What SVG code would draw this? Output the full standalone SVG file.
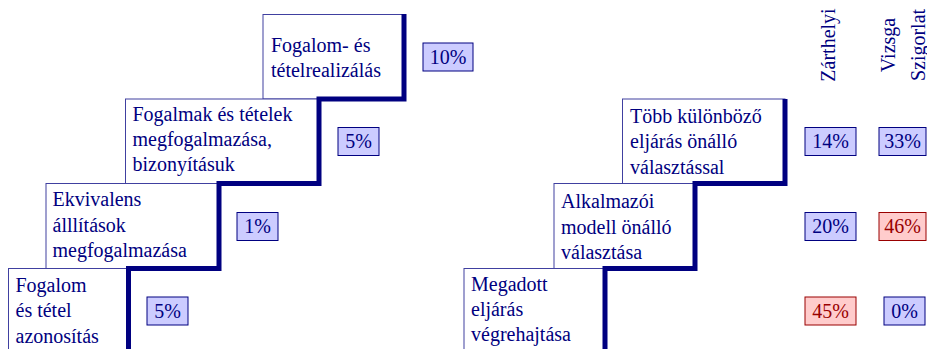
<svg xmlns="http://www.w3.org/2000/svg" width="927" height="349" viewBox="0 0 927 349">
  <style>
    text { font-size: 20px; fill: #000080; }
    .step { fill: #ffffff; stroke: #4040a0; stroke-width: 1; }
    .stair { fill: none; stroke: #000080; stroke-width: 5; stroke-linejoin: miter; }
    .pct rect { fill: #ccccff; stroke: #000080; stroke-width: 1; }
    .pct.red rect { fill: #ffcccc; stroke: #990000; }
    .pct.red text { fill: #990000; }
    .pct text { text-anchor: middle; }
    .head { text-anchor: middle; }
  </style>
  <rect width="927" height="349" fill="#ffffff"/>

  <g font-family="'Liberation Serif', 'Times New Roman', 'DejaVu Serif', serif">
  <!-- left staircase: concept levels -->
  <g id="step-realizalas">
    <rect class="step" x="263" y="14.5" width="141" height="84.5"/>
    <text x="271" y="52">Fogalom- és</text>
    <text x="271" y="76.5">tételrealizálás</text>
  </g>
  <g id="step-megfogalmazas">
    <rect class="step" x="125.5" y="99" width="193.5" height="84.5"/>
    <text x="132.5" y="121">Fogalmak és tételek</text>
    <text x="132.5" y="146">megfogalmazása,</text>
    <text x="132.5" y="171">bizonyításuk</text>
  </g>
  <g id="step-ekvivalens">
    <rect class="step" x="46" y="183.5" width="173" height="85"/>
    <text x="52.5" y="206">Ekvivalens</text>
    <text x="52.5" y="231.5">álllítások</text>
    <text x="52.5" y="256.5">megfogalmazása</text>
  </g>
  <g id="step-azonositas">
    <rect class="step" x="8.5" y="268.5" width="120" height="90"/>
    <text x="15.5" y="291.5">Fogalom</text>
    <text x="15.5" y="317">és tétel</text>
    <text x="15.5" y="342.5">azonosítás</text>
  </g>

  <!-- right staircase: procedure levels -->
  <g id="step-tobb">
    <rect class="step" x="622.5" y="99" width="162.5" height="84.5"/>
    <text x="630" y="122.5">Több különböző</text>
    <text x="630" y="148">eljárás önálló</text>
    <text x="630" y="174">választással</text>
  </g>
  <g id="step-alkalmazoi">
    <rect class="step" x="554" y="183.5" width="141" height="85"/>
    <text x="561" y="208">Alkalmazói</text>
    <text x="561" y="233.5">modell önálló</text>
    <text x="561" y="258.5">választása</text>
  </g>
  <g id="step-megadott">
    <rect class="step" x="464" y="268.5" width="141" height="90"/>
    <text x="471" y="290.5">Megadott</text>
    <text x="471" y="315.5">eljárás</text>
    <text x="471" y="340.5">végrehajtása</text>
  </g>

  <!-- thick stair outlines -->
  <g id="connectors">
    <path class="stair" d="M404,14 V99 H319 V183.5 H219 V268.5 H128.5 V355"/>
    <path class="stair" d="M785,99 V183.5 H695 V268.5 H605 V355"/>
  </g>

  <!-- column headings -->
  <g id="headings">
    <text class="head" transform="translate(835,45) rotate(-90)">Zárthelyi</text>
    <text class="head" transform="translate(894.5,45) rotate(-90)">Vizsga</text>
    <text class="head" transform="translate(924.5,45) rotate(-90)">Szigorlat</text>
  </g>

  <!-- percentage tags -->
  <g id="pct-10" class="pct"><rect x="423" y="43" width="50" height="28"/><text x="448" y="63.5">10%</text></g>
  <g id="pct-5a" class="pct"><rect x="338" y="127.5" width="41" height="28"/><text x="358.5" y="148">5%</text></g>
  <g id="pct-1" class="pct"><rect x="237" y="212.5" width="41" height="28"/><text x="257.5" y="233">1%</text></g>
  <g id="pct-5b" class="pct"><rect x="147" y="297" width="41" height="28"/><text x="167.5" y="317.5">5%</text></g>

  <g id="pct-14" class="pct"><rect x="805" y="127.5" width="51" height="28"/><text x="830.5" y="148">14%</text></g>
  <g id="pct-33" class="pct"><rect x="879" y="127.5" width="47" height="28"/><text x="902.5" y="148">33%</text></g>
  <g id="pct-20" class="pct"><rect x="805" y="212.5" width="51" height="28"/><text x="830.5" y="233">20%</text></g>
  <g id="pct-46" class="pct red"><rect x="879" y="212.5" width="47" height="28"/><text x="902.5" y="233">46%</text></g>
  <g id="pct-45" class="pct red"><rect x="805" y="297" width="51" height="28"/><text x="830.5" y="317.5">45%</text></g>
  <g id="pct-0" class="pct"><rect x="884" y="297" width="41" height="28"/><text x="904.5" y="317.5">0%</text></g>
  </g>
</svg>
